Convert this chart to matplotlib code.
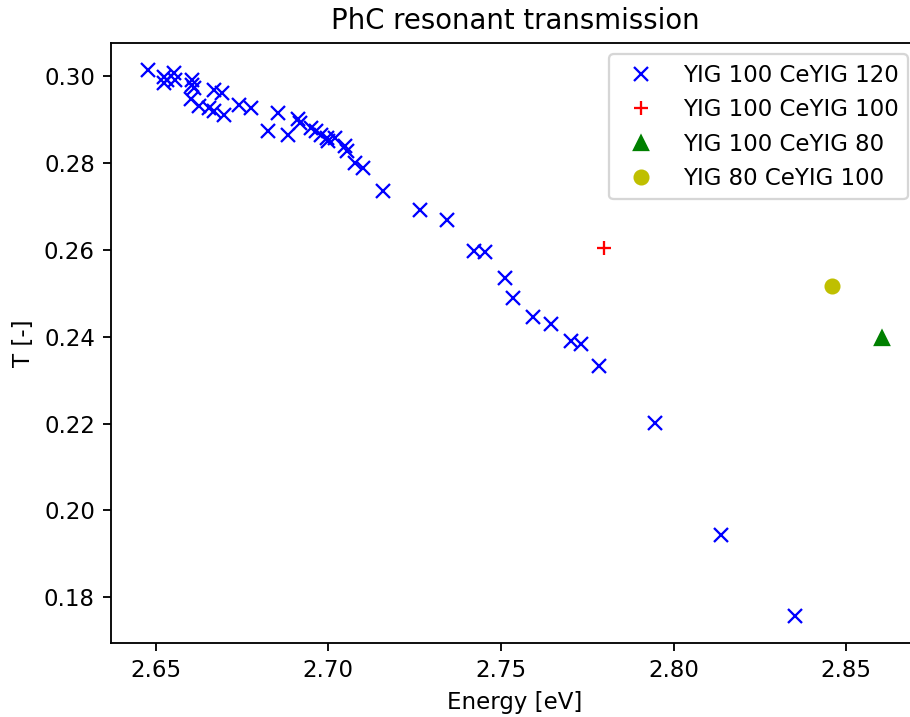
import matplotlib
matplotlib.use("Agg")
import matplotlib.pyplot as plt

# YIG 100 CeYIG 120 series
energy_120 = [2.6477, 2.6524, 2.6533, 2.6553, 2.6557, 2.6524, 2.6606, 2.6606,
              2.6611, 2.6601, 2.6625, 2.6654, 2.6668, 2.6693, 2.6668, 2.6698,
              2.6741, 2.6775, 2.6853, 2.6826, 2.6884, 2.6912, 2.6917, 2.6951,
              2.6965, 2.6980, 2.6995, 2.6999, 2.7018, 2.7048, 2.7053, 2.7077,
              2.7101, 2.7159, 2.7265, 2.7345, 2.7423, 2.7455, 2.7511, 2.7535,
              2.7594, 2.7645, 2.7702, 2.7731, 2.7785, 2.7947, 2.8138, 2.8352]
trans_120 = [0.3014, 0.2998, 0.2992, 0.3008, 0.2992, 0.2985, 0.2992, 0.2981,
             0.2973, 0.2947, 0.2931, 0.2927, 0.2969, 0.2962, 0.2920, 0.2912,
             0.2935, 0.2927, 0.2916, 0.2874, 0.2866, 0.2901, 0.2893, 0.2881,
             0.2874, 0.2866, 0.2858, 0.2851, 0.2858, 0.2839, 0.2828, 0.2801,
             0.2790, 0.2736, 0.2692, 0.2669, 0.2598, 0.2595, 0.2536, 0.2490,
             0.2445, 0.2430, 0.2390, 0.2383, 0.2332, 0.2202, 0.1944, 0.1757]

energy_100 = [2.7800]
trans_100 = [0.2605]

energy_80 = [2.8605]
trans_80 = [0.2398]

energy_y80 = [2.8458]
trans_y80 = [0.2517]

labels = ["YIG 100 CeYIG 120", "YIG 100 CeYIG 100", "YIG 100 CeYIG 80", "YIG 80 CeYIG 100"]

fig = plt.figure(figsize=(910 / 165, 717 / 165), dpi=165)
ax = fig.add_axes([0.122, 0.103, 0.888, 0.837])
ax.plot(energy_120, trans_120, "bx", label=labels[0])
ax.plot(energy_100, trans_100, "r+", label=labels[1])
ax.plot(energy_80, trans_80, "g^", label=labels[2])
ax.plot(energy_y80, trans_y80, "yo", label=labels[3])
ax.set_title("PhC resonant transmission")
ax.set_xlabel("Energy [eV]")
ax.set_ylabel("T [-]")
ax.legend(loc="upper right")
fig.savefig("out.png", dpi=165)
